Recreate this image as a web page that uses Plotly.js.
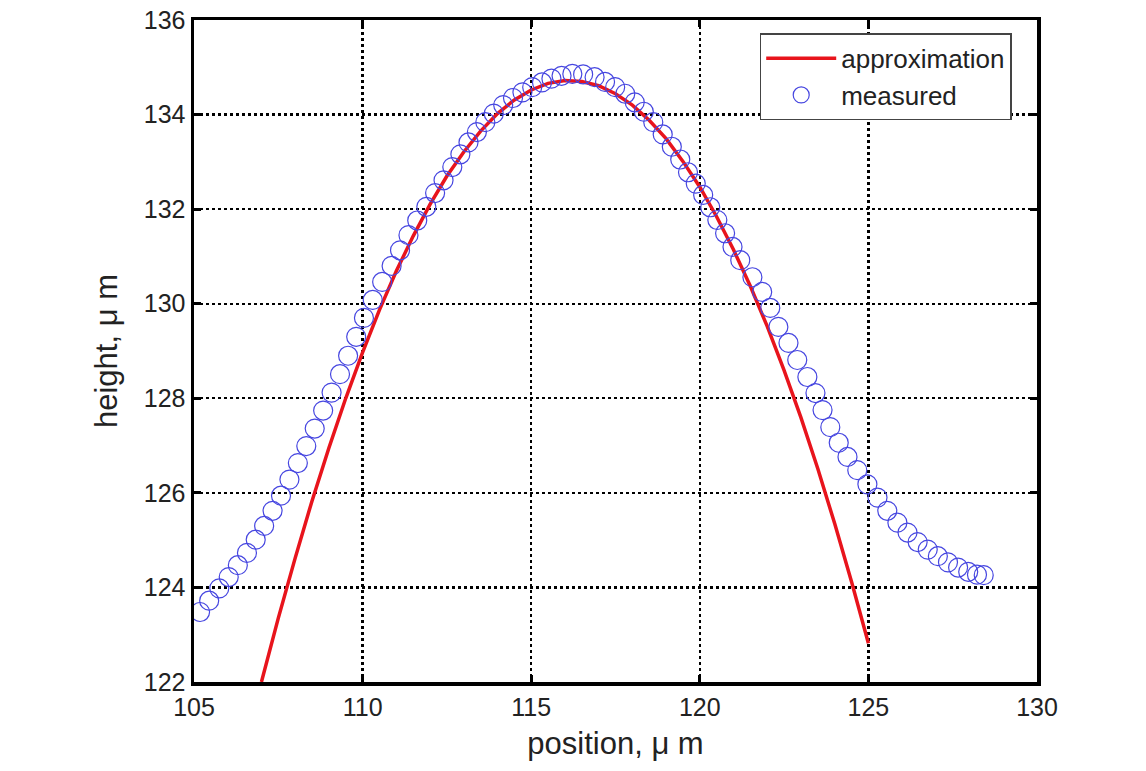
<!DOCTYPE html>
<html>
<head>
<meta charset="utf-8">
<script src="https://cdn.plot.ly/plotly-3.0.1.min.js"></script>
<style>html,body{margin:0;padding:0;background:#fff;}#chart{width:1146px;height:771px;}</style>
</head>
<body>
<div id="chart"></div>
<script>
// measured profile (position, height)
const measuredX = [105.18,105.45,105.75,106.03,106.30,106.57,106.83,107.08,107.33,107.58,107.83,108.08,108.33,108.58,108.83,109.08,109.33,109.57,109.81,110.04,110.30,110.58,110.86,111.11,111.36,111.62,111.89,112.15,112.40,112.66,112.90,113.14,113.39,113.64,113.89,114.17,114.46,114.74,115.03,115.32,115.60,115.90,116.22,116.54,116.88,117.19,117.49,117.79,118.07,118.34,118.62,118.90,119.17,119.42,119.65,119.88,120.10,120.31,120.52,120.75,120.97,121.20,121.56,121.85,122.09,122.33,122.63,122.89,123.19,123.43,123.64,123.87,124.12,124.38,124.67,124.97,125.27,125.56,125.86,126.16,126.46,126.76,127.06,127.36,127.66,127.96,128.22,128.42];
const measuredY = [123.48,123.72,123.98,124.22,124.47,124.73,125.01,125.30,125.62,125.94,126.28,126.63,126.99,127.36,127.74,128.12,128.51,128.90,129.30,129.70,130.08,130.46,130.80,131.13,131.45,131.76,132.05,132.34,132.61,132.89,133.16,133.41,133.63,133.84,134.02,134.20,134.35,134.47,134.58,134.68,134.76,134.82,134.86,134.85,134.79,134.69,134.58,134.44,134.26,134.06,133.84,133.58,133.32,133.05,132.78,132.54,132.30,132.04,131.77,131.49,131.20,130.92,130.56,130.25,129.91,129.51,129.17,128.81,128.45,128.11,127.75,127.39,127.06,126.76,126.48,126.18,125.90,125.62,125.37,125.16,124.96,124.80,124.66,124.53,124.42,124.33,124.27,124.26];

// approximation curve
const approxX = [107.0,107.5,108.0,108.5,109.0,109.5,110.0,110.5,111.0,111.5,112.0,112.5,113.0,113.5,114.0,114.5,115.0,115.5,116.0,116.5,117.0,117.5,118.0,118.5,119.0,119.5,120.0,120.5,121.0,121.5,122.0,122.5,123.0,123.5,124.0,124.5,125.0];
const approxY = [122.00,123.35,124.62,125.83,126.95,128.00,128.97,129.87,130.69,131.43,132.10,132.70,133.21,133.65,134.02,134.31,134.52,134.66,134.72,134.70,134.61,134.44,134.20,133.88,133.49,133.01,132.47,131.84,131.14,130.37,129.52,128.59,127.59,126.51,125.35,124.12,122.82];

const xTicks = [105,110,115,120,125,130];
const yTicks = [122,124,126,128,130,132,134,136];

const font = "Liberation Sans, Arial, sans-serif";

const traces = [
  {
    x: approxX, y: approxY, type: 'scatter', mode: 'lines', name: 'approximation',
    line: {color: '#e8141c', width: 3.5}
  },
  {
    x: measuredX, y: measuredY, type: 'scatter', mode: 'markers', name: 'measured',
    marker: {symbol: 'circle-open', size: 19, color: '#4646e0', line: {width: 1.2, color: '#4646e0'}}
  }
];

const axisCommon = {
  showline: true, linecolor: '#000', linewidth: 3.5, mirror: 'ticks',
  ticks: 'inside', ticklen: 7, tickwidth: 3, tickcolor: '#000',
  showgrid: true, gridcolor: '#000', gridwidth: 2.4, griddash: 'dot',
  zeroline: false,
  tickfont: {family: font, size: 25, color: '#222'}
};

const layout = {
  width: 1146, height: 771,
  margin: {l: 194, r: 109, t: 20, b: 89},
  paper_bgcolor: '#fff', plot_bgcolor: '#fff',
  showlegend: true,
  legend: {
    x: 0.970, y: 0.980, xanchor: 'right', yanchor: 'top',
    bgcolor: '#fff', bordercolor: '#444', borderwidth: 1.5,
    font: {family: font, size: 26, color: '#222'},
    tracegroupgap: 0, itemwidth: 70
  },
  xaxis: Object.assign({}, axisCommon, {
    range: [105, 130], tickvals: xTicks, ticktext: xTicks.map(String),
    title: {text: 'position, μ m', font: {family: font, size: 31, color: '#222'}, standoff: 14}
  }),
  yaxis: Object.assign({}, axisCommon, {
    range: [122, 136], tickvals: yTicks, ticktext: yTicks.map(String),
    title: {text: 'height, μ m', font: {family: font, size: 31, color: '#222'}, standoff: 18}
  })
};

Plotly.newPlot('chart', traces, layout, {displayModeBar: false, staticPlot: true});
</script>
</body>
</html>
